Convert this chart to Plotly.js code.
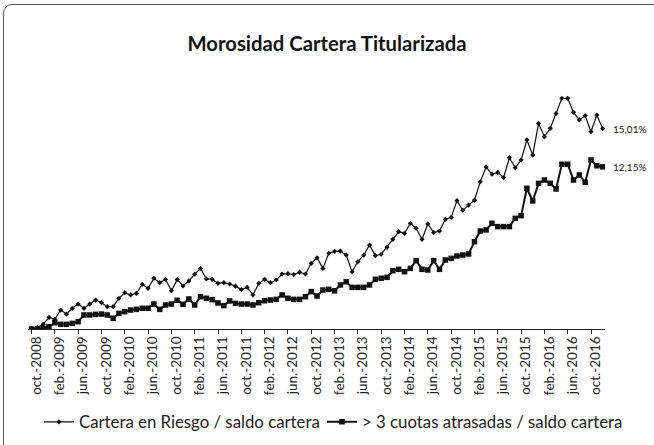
<!DOCTYPE html>
<html>
<head>
<meta charset="utf-8">
<script src="https://cdn.plot.ly/plotly-3.0.1.min.js"></script>
<style>
  html, body { margin: 0; padding: 0; background: #fff; overflow: hidden; }
  #wrap { position: relative; width: 654px; height: 445px; overflow: hidden; }
  #chart { position: absolute; left: 0; top: 0; width: 654px; height: 480px; }
  #frame { position: absolute; left: 3px; top: 4px; width: 660px; height: 470px;
           border: 1px solid #555; border-radius: 9px; pointer-events: none; }
</style>
</head>
<body>
<div id="wrap">
  <div id="chart"></div>
  <div id="frame"></div>
</div>
<script>
// Monthly series, oct-2008 .. dic-2016
const monthNames = ["ene.","feb.","mar.","abr.","may.","jun.","jul.","ago.","sep.","oct.","nov.","dic."];
const startYear = 2008, startMonth = 9; // oct.
const carteraRiesgo = [
  0.05, 0.10, 0.35, 0.87, 0.72, 1.42, 1.12, 1.55, 1.87, 1.55,
  1.87, 2.17, 1.97, 1.67, 1.67, 2.30, 2.72, 2.55, 2.67, 3.35,
  3.05, 3.80, 3.47, 3.72, 2.87, 3.70, 3.22, 3.60, 4.10, 4.54,
  3.75, 3.72, 3.42, 3.47, 3.37, 3.21, 2.95, 3.12, 2.55, 3.42,
  3.72, 3.47, 3.67, 4.12, 4.15, 4.08, 4.26, 4.12, 4.92, 5.33,
  4.54, 5.67, 5.82, 5.84, 5.54, 4.29, 5.04, 5.54, 6.29, 5.50,
  5.60, 6.12, 6.72, 7.29, 7.17, 7.92, 7.54, 6.72, 7.87, 7.22,
  7.34, 8.21, 8.36, 9.61, 8.90, 9.28, 9.65, 11.03, 12.14, 11.59,
  11.73, 11.34, 12.83, 12.08, 12.66, 14.16, 13.03, 15.40, 14.41, 15.03,
  16.15, 17.28, 17.28, 16.23, 15.66, 15.98, 14.78, 16.03, 15.01
];
const cuotasAtrasadas = [
  0.00, 0.02, 0.05, 0.17, 0.47, 0.35, 0.35, 0.42, 0.55, 1.05,
  1.05, 1.10, 1.12, 1.05, 0.80, 1.17, 1.30, 1.42, 1.47, 1.55,
  1.55, 1.87, 1.47, 1.80, 1.87, 2.15, 1.85, 2.25, 1.80, 2.42,
  2.30, 2.20, 1.95, 1.75, 2.10, 1.92, 1.87, 1.87, 1.80, 1.97,
  2.12, 2.17, 2.22, 2.55, 2.30, 2.22, 2.22, 2.42, 2.80, 2.47,
  2.92, 2.97, 2.86, 3.30, 3.54, 3.12, 3.12, 3.12, 3.30, 3.72,
  3.80, 3.87, 4.37, 4.47, 4.29, 4.54, 5.12, 4.47, 4.42, 5.12,
  4.47, 5.17, 5.29, 5.47, 5.54, 5.62, 6.54, 7.34, 7.42, 7.92,
  7.67, 7.67, 7.67, 8.29, 8.49, 10.54, 9.59, 10.91, 11.16, 10.91,
  10.49, 12.34, 12.34, 11.16, 11.54, 10.99, 12.66, 12.23, 12.15
];
const tickLabels = [
  "oct.-2008","feb.-2009","jun.-2009","oct.-2009","feb.-2010","jun.-2010","oct.-2010",
  "feb.-2011","jun.-2011","oct.-2011","feb.-2012","jun.-2012","oct.-2012","feb.-2013",
  "jun.-2013","oct.-2013","feb.-2014","jun.-2014","oct.-2014","feb.-2015","jun.-2015",
  "oct.-2015","feb.-2016","jun.-2016","oct.-2016"
];
const seriesNames = ["Cartera en Riesgo / saldo cartera", "> 3 cuotas atrasadas / saldo cartera"];

const months = carteraRiesgo.map((_, i) => {
  const m = startMonth + i;
  return monthNames[m % 12] + "-" + (startYear + Math.floor(m / 12));
});

const fmt = v => v.toFixed(2).replace(".", ",") + "%";
const FONT = "Lato, 'Open Sans', 'DejaVu Sans', sans-serif";

const traces = [
  {
    x: months, y: carteraRiesgo, type: "scatter", mode: "lines+markers",
    name: seriesNames[0], legend: "legend",
    line: { color: "#111", width: 1.2 },
    marker: { symbol: "diamond", size: 4, color: "#111" }
  },
  {
    x: months, y: cuotasAtrasadas, type: "scatter", mode: "lines+markers",
    name: seriesNames[1], legend: "legend2",
    line: { color: "#111", width: 2 },
    marker: { symbol: "square", size: 5.5, color: "#111" }
  }
];

// plot area: top 62 px, bottom (axis) at 329 px
const legendFont = { family: FONT, size: 16.8, color: "#222" };
const last = months.length - 1;
const layout = {
  width: 654, height: 480,
  margin: { l: 28, r: 49, t: 62, b: 151 },
  paper_bgcolor: "rgba(0,0,0,0)", plot_bgcolor: "rgba(0,0,0,0)",
  font: { family: FONT, color: "#222" },
  title: {
    text: "<b>Morosidad Cartera Titularizada</b>",
    font: { family: FONT, size: 20.3, color: "#111" },
    x: 0.5, xanchor: "center", y: 44 / 480, yref: "container", yanchor: "middle"
  },
  showlegend: true,
  legend: {
    orientation: "h", x: 0.019, xanchor: "left", y: -0.348, yanchor: "middle",
    font: legendFont, bgcolor: "rgba(0,0,0,0)"
  },
  legend2: {
    orientation: "h", x: 0.5095, xanchor: "left", y: -0.348, yanchor: "middle",
    font: legendFont, bgcolor: "rgba(0,0,0,0)"
  },
  xaxis: {
    type: "category",
    range: [-0.6, last + 0.4],
    tickmode: "array",
    tickvals: tickLabels, ticktext: tickLabels,
    tickangle: -90,
    ticks: "outside", ticklen: 4, tickcolor: "#222", tickwidth: 1,
    ticklabelshift: 5,
    ticklabelstandoff: -3,
    tickfont: { family: FONT, size: 13.5, color: "#222" },
    showline: true, linecolor: "#222", linewidth: 1,
    showgrid: false, zeroline: false, fixedrange: true
  },
  yaxis: {
    range: [0, 20], visible: false, showgrid: false, zeroline: false, fixedrange: true
  },
  annotations: [
    { x: months[last], y: carteraRiesgo[last], xref: "x", yref: "y",
      text: fmt(carteraRiesgo[last]), showarrow: false, xanchor: "left", xshift: 8,
      font: { family: FONT, size: 10, color: "#222" } },
    { x: months[last], y: cuotasAtrasadas[last], xref: "x", yref: "y",
      text: fmt(cuotasAtrasadas[last]), showarrow: false, xanchor: "left", xshift: 8,
      font: { family: FONT, size: 10, color: "#222" } }
  ]
};
layout.title.y = 1 - 44 / 480;

Plotly.newPlot("chart", traces, layout, { displayModeBar: false, staticPlot: true });
</script>
</body>
</html>
